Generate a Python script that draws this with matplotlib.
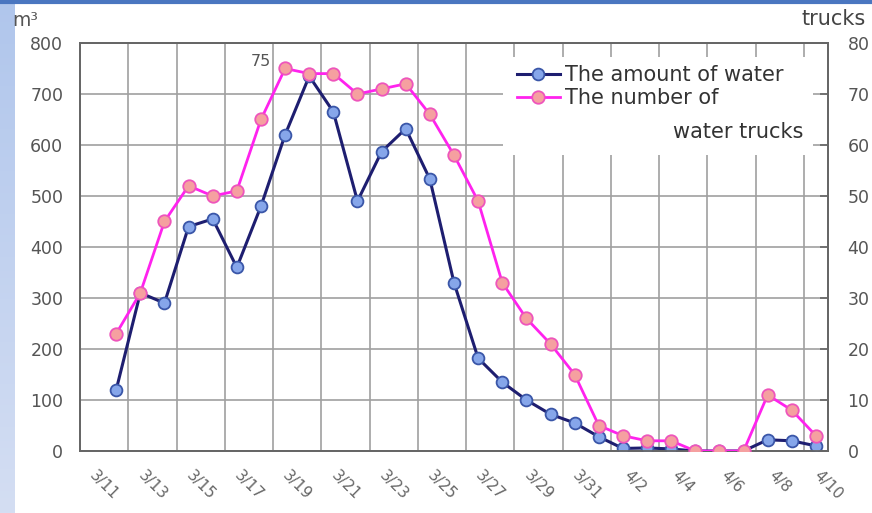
import numpy as np
import matplotlib
matplotlib.use('Agg')
import matplotlib.pyplot as plt
from matplotlib.lines import Line2D
from matplotlib.patches import Rectangle

# categories on the x axis (one per day), data starts on the second one
categories = ['3/11', '3/12', '3/13', '3/14', '3/15', '3/16', '3/17', '3/18', '3/19', '3/20',
              '3/21', '3/22', '3/23', '3/24', '3/25', '3/26', '3/27', '3/28', '3/29', '3/30',
              '3/31', '4/1', '4/2', '4/3', '4/4', '4/5', '4/6', '4/7', '4/8', '4/9', '4/10']
tick_labels = ['3/11', '3/13', '3/15', '3/17', '3/19', '3/21', '3/23', '3/25',
               '3/27', '3/29', '3/31', '4/2', '4/4', '4/6', '4/8', '4/10']

# amount of water (m3)
water = [120, 310, 290, 440, 455, 360, 480, 620, 735, 665, 490, 587, 632, 533, 330,
         182, 135, 100, 72, 55, 28, 5, 6, 4, 0, 0, 0, 22, 20, 10]
# number of water trucks
trucks = [23, 31, 45, 52, 50, 51, 65, 75, 74, 74, 70, 71, 72, 66, 58,
          49, 33, 26, 21, 15, 5, 3, 2, 2, 0, 0, 0, 11, 8, 3]

plt.rcParams['font.family'] = ['DejaVu Sans']

fig = plt.figure(figsize=(8.72, 5.13), dpi=100)
fig.patch.set_facecolor('white')

# slide frame: light blue strip on the left, blue line on top
strip = fig.add_axes([0, 0, 14 / 872, 1])
grad = np.linspace(0, 1, 256).reshape(-1, 1)
strip.imshow(grad, aspect='auto', cmap=matplotlib.colors.LinearSegmentedColormap.from_list(
    'strip', ['#d4def3', '#b0c6ec']), origin='lower', extent=[0, 1, 0, 1])
strip.axis('off')
fig.add_artist(Line2D([0, 1], [1 - 1.5 / 513, 1 - 1.5 / 513], transform=fig.transFigure,
                      color='#4a76c0', lw=3))

ax = fig.add_axes([80 / 872, 1 - 451 / 513, 748 / 872, 408 / 513])
x_all = np.arange(len(categories))
x = x_all[1:]

grid_c = '#a0a0a0'
ax.set_xlim(-0.5, len(categories) - 0.5)
ax.set_ylim(0, 800)
ax.set_yticks(range(0, 801, 100))
ax.set_xticks(np.arange(0.5, len(categories), 2))
ax.set_xticklabels(tick_labels, rotation=-45, ha='center', va='top')
ax.set_xticks(np.arange(1.5, len(categories) - 1, 2), minor=True)
ax.grid(True, which='major', axis='y', color=grid_c, lw=1.2)
ax.grid(True, which='minor', axis='x', color=grid_c, lw=1.2)
ax.tick_params(axis='x', which='both', length=0, pad=12, labelsize=11, labelcolor='#666666')
ax.tick_params(axis='y', length=0, pad=12, labelsize=12.5, labelcolor='#555555')
for s in ax.spines.values():
    s.set_color('#666666')
    s.set_linewidth(1.3)
ax.set_axisbelow(True)

l1, = ax.plot(x, water, color='#1e1e70', lw=2.2, marker='o', markersize=8.5,
              markerfacecolor='#86a6ea', markeredgecolor='#3a56a8', markeredgewidth=1.3,
              zorder=3)

ax2 = ax.twinx()
ax2.set_ylim(0, 80)
ax2.set_yticks(range(0, 81, 10))
ax2.tick_params(axis='y', direction='in', length=6, width=1.2, color='#666666',
                pad=14, labelsize=12.5, labelcolor='#555555')
for s in ax2.spines.values():
    s.set_color('#666666')
    s.set_linewidth(1.3)

l2, = ax2.plot(x, trucks, color='#ff22ee', lw=2.0, marker='o', markersize=9,
               markerfacecolor='#f5a0a0', markeredgecolor='#ee55bb', markeredgewidth=1.3,
               zorder=3)

# peak label
peak = int(np.argmax(trucks))
ax2.annotate(str(trucks[peak]), (x[peak], trucks[peak]), xytext=(-14, 7),
             textcoords='offset pixels', ha='right', va='center', fontsize=11.5,
             color='#555555')

# white legend area covering the grid
ax2.add_patch(Rectangle((0.5655, 0.7255), 0.4145, 0.2402, transform=ax2.transAxes,
                        facecolor='white', edgecolor='none', zorder=1))
ax2.legend([l1, l2], ['The amount of water', 'The number of'], loc='upper left',
           bbox_to_anchor=(0.584, 0.945), frameon=False, borderpad=0, borderaxespad=0,
           handlelength=2.05, handletextpad=0.25, labelspacing=0.12, fontsize=15,
           labelcolor='#333333')
ax2.text(0.9666, 0.782, 'water trucks', transform=ax2.transAxes, ha='right', va='center',
         fontsize=15, color='#333333', zorder=4)

fig.text(12 / 872, 1 - 20 / 513, 'm³', ha='left', va='center', fontsize=13.5, color='#555555')
fig.text(866 / 872, 1 - 19 / 513, 'trucks', ha='right', va='center', fontsize=15,
         color='#444444')

fig.savefig('out.png', dpi=100)
